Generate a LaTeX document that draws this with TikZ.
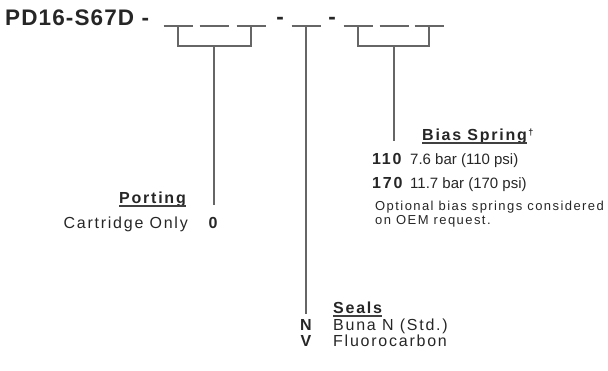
\documentclass[tikz,border=0pt]{standalone}
\usepackage{fontspec}
\setmainfont{Liberation Sans}
\newfontfamily\spaced{Liberation Sans}[LetterSpace=11]
\newfontfamily\titlefont{Liberation Sans}[LetterSpace=5]
\usetikzlibrary{positioning}

\tikzset{
    lbl/.style={inner sep=0pt, text=black!85, font=\fontsize{16}{18}\selectfont\spaced},
    plain/.style={lbl, font=\fontsize{15}{17}\selectfont},
    code/.style={lbl, font=\fontsize{16}{18}\selectfont\spaced\bfseries},
    big/.style={lbl, font=\fontsize{22.5}{25}\selectfont\titlefont\bfseries},
    note/.style={lbl, font=\fontsize{13}{15}\selectfont\spaced},
    slot/.style={line width=1.3pt, draw=black!60},
    rule/.style={line width=1.4pt, draw=black!75},
}

\begin{document}
\begin{tikzpicture}[x=1pt, y=-1pt]
    \useasboundingbox (0,0) rectangle (608,370);

    % model code
    \node[big, anchor=base west] (model) at (5,25) {PD16-S67D -};
    \node[big, anchor=base] (dashA) at (280,24) {-};
    \node[big, anchor=base] (dashB) at (332,24) {-};

    % blanks
    \foreach \x in {178,214,251,306,358,394,429}
        \draw[slot] (\x-14.5,26) -- (\x+14.5,26);
    \draw[slot] (178,26) -- (178,46) -| (251,26);
    \draw[slot] (358,26) -- (358,46) -| (429,26);

    % porting
    \node[code, anchor=base] (zero) at (213,228) {0};
    \node[lbl, anchor=base east] (cart) at (188,228) {Cartridge Only};
    \node[code, anchor=base east] (porting) at (186,203) {Porting};
    \draw[rule] ([yshift=-3pt]porting.base west) -- ([yshift=-3pt]porting.base east);
    \coordinate (porttop) at (214,46);
    \coordinate (portend) at (214,205);
    \draw[slot] (porttop) -- (portend);

    % seals
    \coordinate (sealtop) at (306,26);
    \coordinate (sealend) at (306,314);
    \draw[slot] (sealtop) -- (sealend);
    \node[code, anchor=base west] (seals) at (333,313) {Seals};
    \draw[rule] ([yshift=-3pt]seals.base west) -- ([yshift=-3pt]seals.base east);
    \node[code, anchor=base] (codeN) at (306,330) {N};
    \node[lbl, anchor=base west] (buna) at (333,330) {Buna N (Std.)};
    \node[code, anchor=base] (codeV) at (306,346) {V};
    \node[lbl, anchor=base west] (fluoro) at (333,346) {Fluorocarbon};

    % bias spring
    \coordinate (biastop) at (394,46);
    \coordinate (biasend) at (394,141);
    \draw[slot] (biastop) -- (biasend);
    \node[code, anchor=base west] (bias) at (422,140) {Bias Spring};
    \draw[rule] ([yshift=-3pt]bias.base west) -- ([yshift=-3pt]bias.base east);
    \node[code, anchor=base west, font=\fontsize{9}{10}\selectfont\bfseries] (dagger) at ([xshift=1pt, yshift=5pt]bias.base east) {\textdagger};
    \node[code, anchor=base west] (c110) at (372,164) {110};
    \node[plain, anchor=base west] (s110) at (410,164) {7.6 bar (110 psi)};
    \node[code, anchor=base west] (c170) at (372,188) {170};
    \node[plain, anchor=base west] (s170) at (410,188) {11.7 bar (170 psi)};
    \node[note, anchor=base west] (oemA) at (375,210) {Optional bias springs considered};
    \node[note, anchor=base west] (oemB) at (375,224) {on OEM request.};
\end{tikzpicture}
\end{document}
